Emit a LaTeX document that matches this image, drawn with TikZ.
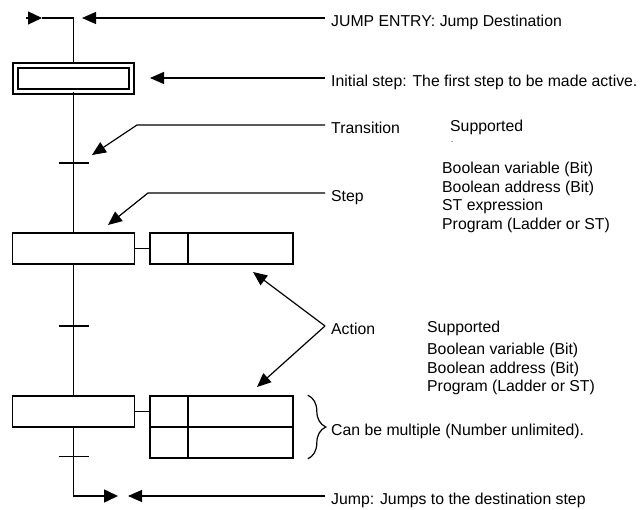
\documentclass[tikz,border=0pt]{standalone}
\usepackage{fontspec}
\setmainfont{Liberation Sans}
\usetikzlibrary{arrows.meta, decorations.pathreplacing}

\begin{document}
\begin{tikzpicture}[
    x=1pt,
    y=-1pt,
    font=\fontsize{15.8pt}{18.5pt}\selectfont,
    box/.style={
        draw,
        line width=1.6pt,
        inner sep=0pt,
        minimum height=31pt
    },
    stepbox/.style={box, minimum width=122pt},
    initbox/.style={
        draw,
        double,
        double distance=3.4pt,
        line width=1.6pt,
        inner sep=0pt,
        minimum width=116pt,
        minimum height=26pt
    },
    qualbox/.style={box, minimum width=38pt},
    actbox/.style={box, minimum width=105pt},
    link/.style={line width=1.5pt},
    pointer/.style={line width=1.2pt, -{Triangle[length=14pt, width=12pt]}},
    callout/.style={
        anchor=west,
        inner xsep=6pt,
        inner ysep=0pt,
        text height=20pt,
        text depth=2pt
    },
    note/.style={anchor=base west, inner sep=0pt}
]
    \useasboundingbox (0,0) rectangle (643,510);

    % ==========================================
    % CHART
    % ==========================================

    % Steps
    \node[initbox] (init) at (73.5, 78.3) {};
    \node[stepbox] (s1) at (73.5, 248.5) {};
    \node[stepbox] (s2) at (73.5, 411.5) {};

    % Actions
    \node[qualbox] (q1) at (169.0, 248.5) {};
    \node[actbox] (a1) at (240.5, 248.5) {};
    \node[qualbox] (q2) at (169.0, 411.5) {};
    \node[actbox] (a2) at (240.5, 411.5) {};
    \node[qualbox] (q3) at (169.0, 442.5) {};
    \node[actbox] (a3) at (240.5, 442.5) {};

    % Transitions and jump ends
    \coordinate (t1) at (73.5, 163);
    \coordinate (t2) at (73.5, 326);
    \coordinate (t3) at (73.5, 457);
    \coordinate (entry) at (42, 18);
    \coordinate (jump) at (118, 496);

    % Links
    \draw[link] (init.north) |- (entry);
    \draw[line width=1.2pt, -{Triangle[length=14pt, width=13pt]}] ([xshift=-16pt]entry) -- (entry);
    \draw[link] (init.south) -- (s1.north);
    \draw[link] (s1.south) -- (s2.north);
    \draw[link, -{Triangle[length=14pt, width=13pt]}] (s2.south) |- (jump);
    \draw[line width=1.2pt] (s1.east) -- (q1.west);
    \draw[line width=1.2pt] (s2.east) -- (q2.west);
    \foreach \t in {t1,t2}
        \draw[link] ([xshift=-15pt]\t) -- ([xshift=15pt]\t);
    \draw[line width=1pt] ([xshift=-15pt]t3) -- ([xshift=15pt]t3);

    % ==========================================
    % CALLOUTS
    % ==========================================

    \node[callout] (centry) at (325, 18) {JUMP ENTRY: Jump Destination};
    \node[callout] (cinit) at (325, 78) {Initial step: The first step to be made active.};
    \node[callout] (ctrans) at (325, 125) {Transition};
    \node[callout] (cstep) at (325, 193) {Step};
    \node[callout] (cact) at (325, 326) {Action};
    \node[callout] (cmult) at (325, 427) {Can be multiple (Number unlimited).};
    \node[callout] (cjump) at (325, 496) {Jump: Jumps to the destination step};

    \coordinate (entrytip) at (82, 18);
    \coordinate (inittip) at (150, 78);
    \coordinate (transtip) at (92, 155);
    \coordinate (steptip) at (108, 225);
    \coordinate (acttip1) at (253, 272);
    \coordinate (acttip2) at (257, 387);
    \coordinate (jumptip) at (128, 496);

    \draw[pointer] (centry.west) -- (entrytip);
    \draw[pointer] (cinit.west) -- (inittip);
    \draw[pointer] (ctrans.west) -- ++(-188, 0) -- (transtip);
    \draw[pointer] (cstep.west) -- ++(-177, 0) -- (steptip);
    \draw[pointer] (cact.west) -- (acttip1);
    \draw[pointer] (cact.west) -- (acttip2);
    \draw[pointer] (cjump.west) -- (jumptip);

    % Multiple actions brace
    \draw[line width=1.2pt, decorate, decoration={brace, amplitude=18pt}]
        ([xshift=14pt]a2.north east) -- ([xshift=14pt]a3.south east);

    % Supported types
    \node[note] (tsup) at (450, 132) {Supported};
    \node[note, font=\fontsize{8pt}{8pt}\selectfont] (tdot) at (451, 143) {.};
    \foreach \txt [count=\i] in {Boolean variable (Bit), Boolean address (Bit), ST expression, Program (Ladder or ST)}
        \node[note] (tlist\i) at (442, 155.5+18.5*\i) {\txt};

    \node[note] (asup) at (427, 333) {Supported};
    \foreach \txt [count=\i] in {Boolean variable (Bit), Boolean address (Bit), Program (Ladder or ST)}
        \node[note] (alist\i) at (427, 336.5+18.5*\i) {\txt};

\end{tikzpicture}
\end{document}
